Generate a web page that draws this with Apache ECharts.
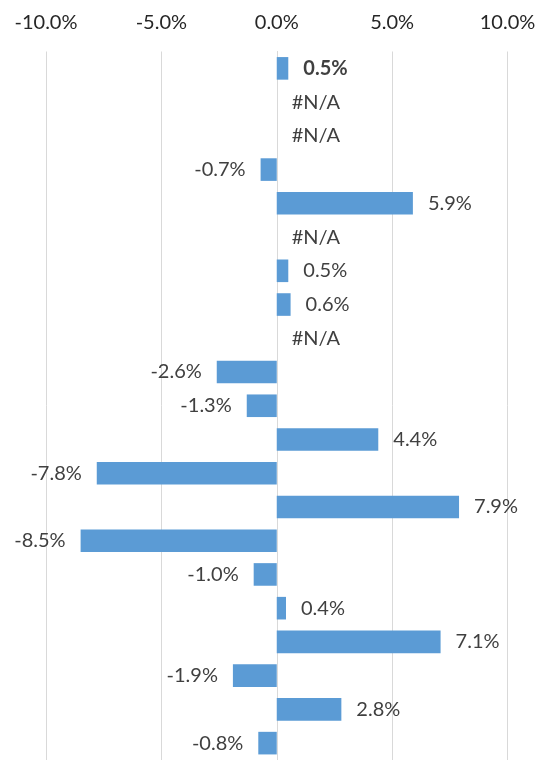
<!DOCTYPE html>
<html>
<head>
<meta charset="utf-8">
<script src="https://cdn.jsdelivr.net/npm/echarts@6/dist/echarts.min.js"></script>
<style>
  html, body { margin: 0; padding: 0; background: #fff; }
  #chart { width: 553px; height: 760px; }
</style>
</head>
<body>
<div id="chart"></div>
<script>
// one row per category, top to bottom; null = #N/A
var categories = ['r1', 'r2', 'r3', 'r4', 'r5', 'r6', 'r7', 'r8', 'r9', 'r10', 'r11',
  'r12', 'r13', 'r14', 'r15', 'r16', 'r17', 'r18', 'r19', 'r20', 'r21']
var values = [0.5, null, null, -0.7, 5.9, null, 0.5, 0.6, null, -2.6, -1.3,
  4.4, -7.8, 7.9, -8.5, -1.0, 0.4, 7.1, -1.9, 2.8, -0.8]
var boldRows = [0]
var xTicks = { min: -10, max: 10, interval: 5 }

var font = 'Lato'
var labelColor = '#404040'

var barData = values.map(function (v, i) {
  var na = v === null
  return {
    value: na ? 0 : v,
    label: {
      show: true,
      position: (!na && v < 0) ? 'left' : 'right',
      distance: 15,
      formatter: na ? '#N/A' : v.toFixed(1) + '%',
      fontWeight: boldRows.indexOf(i) >= 0 ? 'bold' : 'normal'
    }
  }
})

var myChart = echarts.init(document.getElementById('chart'))
myChart.setOption({
  animation: false,
  grid: { left: 46, right: 45.5, top: 51.5, height: 712, containLabel: false },
  xAxis: {
    type: 'value',
    position: 'top',
    min: xTicks.min,
    max: xTicks.max,
    interval: xTicks.interval,
    axisLine: { show: false },
    axisTick: { show: false },
    axisLabel: {
      margin: 19,
      color: '#262626',
      fontFamily: font,
      fontSize: 20,
      formatter: function (v) { return v.toFixed(1) + '%' }
    },
    splitLine: { lineStyle: { color: '#D9D9D9', width: 1 } }
  },
  yAxis: {
    type: 'category',
    inverse: true,
    data: categories,
    axisLine: { show: true, onZero: true, lineStyle: { color: '#D9D9D9' } },
    axisTick: { show: false },
    axisLabel: { show: false }
  },
  series: [{
    type: 'bar',
    data: barData,
    barCategoryGap: '33%',
    itemStyle: { color: '#5B9BD5' },
    label: { color: labelColor, fontFamily: font, fontSize: 20 }
  }]
})
</script>
</body>
</html>
